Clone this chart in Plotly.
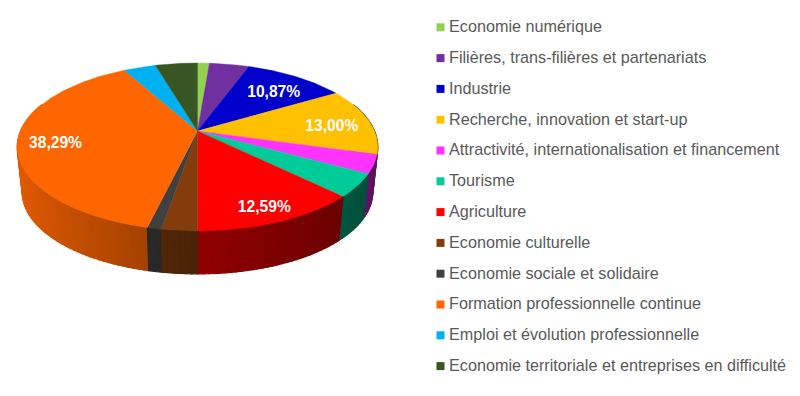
import math
import plotly.graph_objects as go

categories = ["Economie numérique", "Filières, trans-filières et partenariats", "Industrie",
              "Recherche, innovation et start-up", "Attractivité, internationalisation et financement",
              "Tourisme", "Agriculture", "Economie culturelle", "Economie sociale et solidaire",
              "Formation professionnelle continue", "Emploi et évolution professionnelle",
              "Economie territoriale et entreprises en difficulté"]
values = [1.28, 4.28, 10.87, 13.00, 3.57, 4.40, 12.59, 2.67, 1.05, 38.29, 3.46, 4.54]
labels = {2: "10,87%", 3: "13,00%", 6: "12,59%", 9: "38,29%"}
label_radius = {2: 0.75, 3: 0.78, 6: 0.835, 9: 0.793}
colors = ["#92D050", "#7030A0", "#0000CC", "#FFC000", "#FF33FF", "#00CC99",
          "#FF0000", "#843C0C", "#404040", "#FF6600", "#00B0F0", "#375623"]

CX, CY = 197.5, 131.0
A, C, K = 177.0, 80.9, 0.19
DEPTH, BOTTOM_SCALE = 45.8, 0.972
LABEL_DY = 4.5


def project(theta, r=1.0, bottom=False):
    x, y = r * math.sin(theta), r * math.cos(theta)
    w = 1 + K * y
    s = BOTTOM_SCALE if bottom else 1.0
    return CX + s * A * x / w, CY + (DEPTH if bottom else 0) - s * C * y / w


def shade(hex_color, f):
    rgb = [int(hex_color[i:i + 2], 16) for i in (1, 3, 5)]
    return "rgb(%d,%d,%d)" % tuple(round(c * f) for c in rgb)


def side_factor(theta):
    s = math.sin(theta)
    return 0.57 - 0.33 * s if s < 0 else 0.57 - 0.21 * s


fig = go.Figure()
total = sum(values)
edges = [0.0]
for v in values:
    edges.append(edges[-1] + v / total * 2 * math.pi)

strips = []
for i, col in enumerate(colors):
    a0, a1 = edges[i], edges[i + 1]
    n = max(1, int((a1 - a0) / math.radians(1.5)))
    for j in range(n):
        t0 = a0 + (a1 - a0) * j / n
        t1 = a0 + (a1 - a0) * (j + 1) / n
        if math.cos((t0 + t1) / 2) < 0.35:
            strips.append((t0, t1, col))
for t0, t1, col in sorted(strips, key=lambda s: -math.cos((s[0] + s[1]) / 2)):
    p0, p1 = project(t0), project(t1)
    b0, b1 = project(t0, bottom=True), project(t1, bottom=True)
    c = shade(col, side_factor((t0 + t1) / 2))
    fig.add_trace(go.Scatter(x=[p0[0], p1[0], b1[0], b0[0], p0[0]], y=[p0[1], p1[1], b1[1], b0[1], p0[1]],
                             mode="lines", fill="toself", fillcolor=c, line=dict(color=c, width=1.2),
                             hoverinfo="skip", showlegend=False))

for i, (name, col) in enumerate(zip(categories, colors)):
    a0, a1 = edges[i], edges[i + 1]
    n = max(4, int((a1 - a0) / math.radians(1.0)))
    pts = [(CX, CY)] + [project(a0 + (a1 - a0) * j / n) for j in range(n + 1)] + [(CX, CY)]
    fig.add_trace(go.Scatter(x=[p[0] for p in pts], y=[p[1] for p in pts], mode="lines", fill="toself",
                             fillcolor=col, line=dict(color=col, width=0.4), name=name, showlegend=False,
                             hoverinfo="name"))

for i, text in labels.items():
    x, y = project((edges[i] + edges[i + 1]) / 2, label_radius[i])
    fig.add_trace(go.Scatter(x=[x], y=[y + LABEL_DY], mode="text", text=[text], textposition="middle center",
                             textfont=dict(family="Liberation Sans", size=15.6, color="white", weight="bold"),
                             hoverinfo="skip", showlegend=False))

SWATCH_X, TEXT_X, LEG_Y, LEG_STEP = 440.5, 449.0, 27.3, 30.8
for i, (name, col) in enumerate(zip(categories, colors)):
    y = LEG_Y + i * LEG_STEP
    fig.add_trace(go.Scatter(x=[SWATCH_X], y=[y], mode="markers",
                             marker=dict(symbol="square", size=8, color=col),
                             hoverinfo="skip", showlegend=False))
    fig.add_trace(go.Scatter(x=[TEXT_X], y=[y + 0.8], mode="text", text=[name], textposition="middle right",
                             textfont=dict(family="Liberation Sans", size=16.2, color="#595959"),
                             hoverinfo="skip", showlegend=False))

fig.update_layout(width=800, height=396, margin=dict(l=0, r=0, t=0, b=0), paper_bgcolor="white",
                  plot_bgcolor="white", showlegend=False,
                  xaxis=dict(range=[0, 800], visible=False, fixedrange=True),
                  yaxis=dict(range=[396, 0], visible=False, fixedrange=True))
fig.write_html("out.html", config=dict(displayModeBar=False),
               post_script="document.body.style.margin='0';")
